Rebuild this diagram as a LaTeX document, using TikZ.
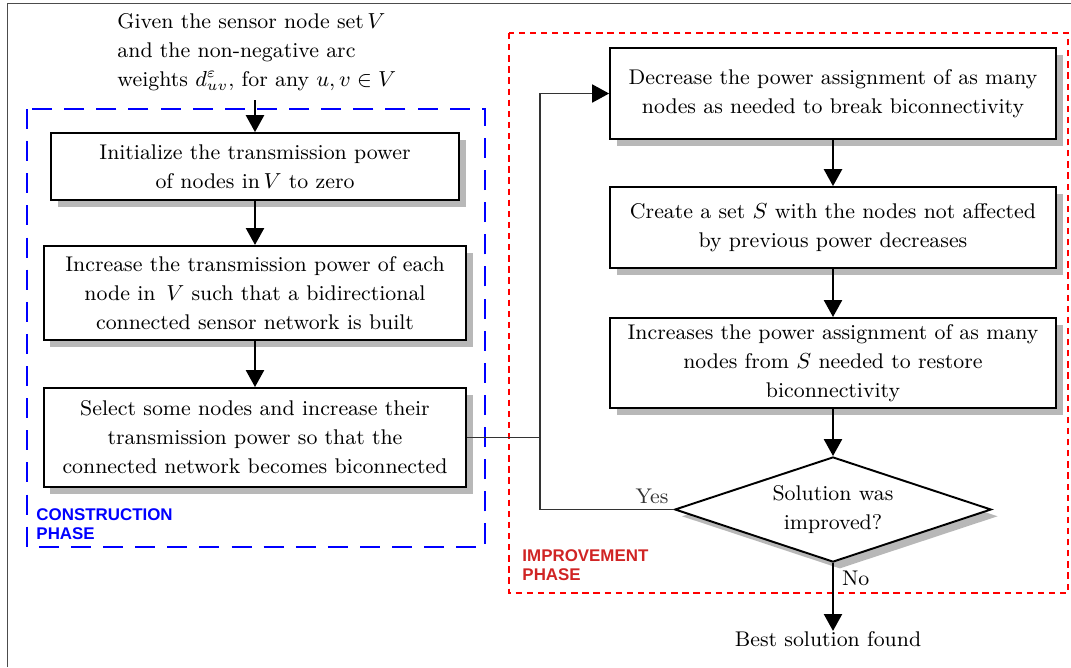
\documentclass[tikz,border=0pt]{standalone}
\usepackage{amsmath}
\usepackage{amssymb}
\usepackage{fontspec}
\newfontfamily\phasefont{Liberation Sans}
\usetikzlibrary{arrows.meta,shapes.geometric,shadows}
\definecolor{phred}{RGB}{208,36,36}
\tikzset{tx/.append style={font=\fontsize{8.8}{12}\selectfont}}
\tikzset{bx/.append style={tx,draw,thick,fill=white,align=center,inner sep=0pt,
  drop shadow={shadow xshift=2.8pt,shadow yshift=-2.8pt,fill=black!28,opacity=1}}}
\tikzset{dm/.append style={bx,diamond,aspect=3}}
\tikzset{arr/.append style={thick,-{Triangle[length=7pt,width=7.5pt]}}}
\tikzset{ln/.append style={black!80,line width=0.5pt}}
\tikzset{ph/.append style={font=\phasefont\bfseries\fontsize{7}{7.9}\selectfont,align=left,inner sep=0pt,anchor=north west}}

\begin{document}
\begin{tikzpicture}[x=0.414pt,y=-0.414pt]
                \useasboundingbox (0,0) rectangle (1071,667);
                \draw[black!70] (7,667) -- (7,3) -- (1071,3);
                % phases
                \draw[blue,line width=1.1pt,dash pattern=on 8.3pt off 5pt] (27,109) rectangle (485,547);
                \draw[red,line width=1pt,dash pattern=on 2.6pt off 2pt] (509,33) rectangle (1068,593);
                \node[ph,text=blue] (cph) at (36,508) {CONSTRUCTION\\PHASE};
                \node[ph,text=phred] (iph) at (522,549) {IMPROVEMENT\\PHASE};
                % construction
                \node[tx,align=left,inner sep=0pt,anchor=west] (given) at (117,52) {Given the sensor node set\,$V$\\ and the non-negative arc\\ weights $d^{\varepsilon}_{uv}$, for any $u,v\in V$};
                \coordinate (src) at (255,100);
                \node[bx,minimum width=169pt,minimum height=27.7pt] (init) at (255,166.5) {Initialize the transmission power\\ of nodes in\,$V$ to zero};
                \node[bx,minimum width=175pt,minimum height=39pt] (incr) at (255,293) {Increase the transmission power of each\\ node in~\,$V$ such that a bidirectional\\ connected sensor network is built};
                \node[bx,minimum width=175pt,minimum height=41pt] (sel) at (255,437.5) {Select some nodes and increase their\\ transmission power so that the\\ connected network becomes biconnected};
                % improvement
                \node[bx,minimum width=184.6pt,minimum height=37.7pt] (dec) at (833,93.5) {Decrease the power assignment of as many\\ nodes as needed to break biconnectivity};
                \node[bx,minimum width=184.6pt,minimum height=33.5pt] (crt) at (833,227.5) {Create a set $S$ with the nodes not affected\\ by previous power decreases};
                \node[bx,minimum width=184.6pt,minimum height=37.3pt] (rst) at (833,363) {Increases the power assignment of as many\\ nodes from $S$ needed to restore\\ biconnectivity};
                \node[dm,minimum width=131pt,minimum height=43.5pt] (imp) at (833,509.5) {Solution was\\ improved?};
                \node[tx,inner sep=0pt] (best) at (828,639) {Best solution found};
                \coordinate (jn) at (540,437.5);
                \path (src) edge[arr] (init);
                \path (init) edge[arr] (incr);
                \path (incr) edge[arr] (sel);
                \draw[ln,-{Triangle[length=7pt,width=7.5pt,color=black]}] (sel.east) -- (jn) |- (dec.west);
                \draw[ln] (imp.west) -- (imp.west -| jn) node[tx,pos=0,above left,inner sep=2pt]{Yes} -- (jn);
                \path (dec) edge[arr] (crt);
                \path (crt) edge[arr] (rst);
                \path (rst) edge[arr] (imp);
                \draw[arr] (imp.south) -- (imp.south |- best.north) node[tx,pos=0.22,right]{No};
            \end{tikzpicture}
\end{document}
